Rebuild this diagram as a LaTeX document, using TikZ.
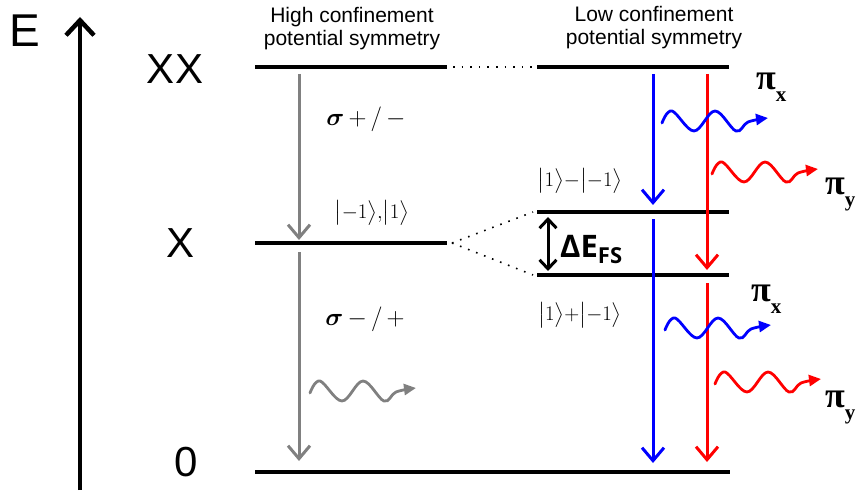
\documentclass[tikz,border=0pt]{standalone}
\usepackage{fontspec}
\usepackage{amsmath}
\setmainfont{Liberation Sans}
\newfontfamily\tnr{Liberation Serif}
\newfontfamily\osans{Open Sans}
\usetikzlibrary{arrows.meta}
\definecolor{lgray}{RGB}{128,128,128}
\definecolor{pblue}{RGB}{0,0,255}
\definecolor{pred}{RGB}{255,0,0}
\tikzset{
  level/.style={line width=4.5pt},
  dotlink/.style={line width=1.6pt, dash pattern=on 1.6pt off 7pt},
  trans/.style={line width=3pt, -{Straight Barb[length=13pt,width=22pt,line width=3pt]}},
  axisarrow/.style={line width=4.5pt, -{Straight Barb[length=15pt,width=28pt,line width=4.5pt]}},
  dbl/.style={line width=3pt, {Straight Barb[length=9pt,width=17pt,line width=3pt]}-{Straight Barb[length=9pt,width=17pt,line width=3pt]}},
  photon/.style={line width=2.8pt, line cap=round, -{Triangle[length=12pt,width=11pt]}},
  big/.style={font=\fontsize{42}{42}\selectfont},
  header/.style={align=center, font=\fontsize{21}{23}\selectfont},
  ket/.style={inner sep=1pt, font=\fontsize{21}{21}\selectfont},
  sig/.style={font=\fontsize{25}{25}\selectfont},
  pilab/.style={anchor=base west, inner sep=0pt, font=\tnr\bfseries\fontsize{36}{36}\selectfont}
}
\newcommand\photonwave[3]{\draw[photon,#1,shift={(#2,#3)}] plot[smooth,tension=0.6] coordinates{(0,0)(10,-12)(32,8)(53,-12)(74,8)(86,-1)(106,-5)};}
\begin{document}
\begin{tikzpicture}[x=1pt,y=-1pt]
\useasboundingbox (0,0) rectangle (859,497);
% axis
\coordinate (axB) at (80,490);
\coordinate (axT) at (80,17);
\draw[axisarrow] (axB) -- (axT);
\node[font=\fontsize{46}{46}\selectfont] (E) at (25,31) {E};
\node[big] (lXX) at (175,69) {XX};
\node[big] (lX) at (181,243) {X};
\node[big] (l0) at (186,462) {0};
% headers
\node[header] (hHigh) at (352,29) {High confinement\\potential symmetry};
\node[header] (hLow) at (654,28) {Low confinement\\potential symmetry};
% levels
\coordinate (xxL1) at (255,67); \coordinate (xxL2) at (447,67);
\coordinate (xxR1) at (537,67); \coordinate (xxR2) at (729,67);
\coordinate (xL1) at (255,243); \coordinate (xL2) at (447,243);
\coordinate (xU1) at (537,212); \coordinate (xU2) at (729,212);
\coordinate (xD1) at (537,275); \coordinate (xD2) at (729,275);
\coordinate (g1) at (255,472); \coordinate (g2) at (730,472);
\draw[level] (xxL1) -- (xxL2);
\draw[level] (xxR1) -- (xxR2);
\draw[level] (xL1) -- (xL2);
\draw[level] (xU1) -- (xU2);
\draw[level] (xD1) -- (xD2);
\draw[level] (g1) -- (g2);
\draw[dotlink] ([xshift=6pt]xxL2) -- ([xshift=-4pt]xxR1);
\draw[dotlink] ([xshift=5pt]xL2) -- ([xshift=-4pt]xU1);
\draw[dotlink] ([xshift=5pt]xL2) -- ([xshift=-4pt]xD1);
% fine structure
\coordinate (dT) at (548,217); \coordinate (dB) at (548,271);
\draw[dbl] (dT) -- (dB);
\node[anchor=base west, inner sep=0pt, font=\osans\bfseries\fontsize{31}{31}\selectfont] (dE) at (560,257) {ΔE\raisebox{-6pt}{\fontsize{22}{22}\selectfont FS}};
% kets
\node[ket] (k1) at (372,213) {$\bigl|{-1}\bigr\rangle{,}\bigl|1\bigr\rangle$};
\node[ket] (k2) at (580,181) {$\bigl|1\bigr\rangle{-}\bigl|{-1}\bigr\rangle$};
\node[ket] (k3) at (580,315) {$\bigl|1\bigr\rangle{+}\bigl|{-1}\bigr\rangle$};
% sigma labels
\node[sig] (s1) at (366,119) {$\boldsymbol{\sigma}\,{+}\,/\,{-}$};
\node[sig] (s2) at (365,319) {$\boldsymbol{\sigma}\,{-}\,/\,{+}$};
% transitions
\coordinate (ga1) at (299,74); \coordinate (ga2) at (299,240);
\coordinate (gb1) at (299,252); \coordinate (gb2) at (299,461);
\draw[trans, lgray] (ga1) -- (ga2);
\draw[trans, lgray] (gb1) -- (gb2);
\coordinate (ba1) at (653,74); \coordinate (ba2) at (653,205);
\coordinate (bb1) at (653,219); \coordinate (bb2) at (653,463);
\draw[trans, pblue] (ba1) -- (ba2);
\draw[trans, pblue] (bb1) -- (bb2);
\coordinate (ra1) at (707,74); \coordinate (ra2) at (707,270);
\coordinate (rb1) at (707,283); \coordinate (rb2) at (707,462);
\draw[trans, pred] (ra1) -- (ra2);
\draw[trans, pred] (rb1) -- (rb2);
% photons
\photonwave{lgray}{310}{393}
\photonwave{pblue}{662}{123}
\photonwave{pred}{712}{174}
\photonwave{pblue}{665}{330}
\photonwave{pred}{715}{384}
% pi labels
\node[pilab] (p1) at (756,90) {π\raisebox{-12pt}{\fontsize{21}{21}\selectfont x}};
\node[pilab] (p2) at (825,195) {π\raisebox{-12pt}{\fontsize{21}{21}\selectfont y}};
\node[pilab] (p3) at (751,301) {π\raisebox{-12pt}{\fontsize{21}{21}\selectfont x}};
\node[pilab] (p4) at (825,407) {π\raisebox{-12pt}{\fontsize{21}{21}\selectfont y}};
\end{tikzpicture}
\end{document}
